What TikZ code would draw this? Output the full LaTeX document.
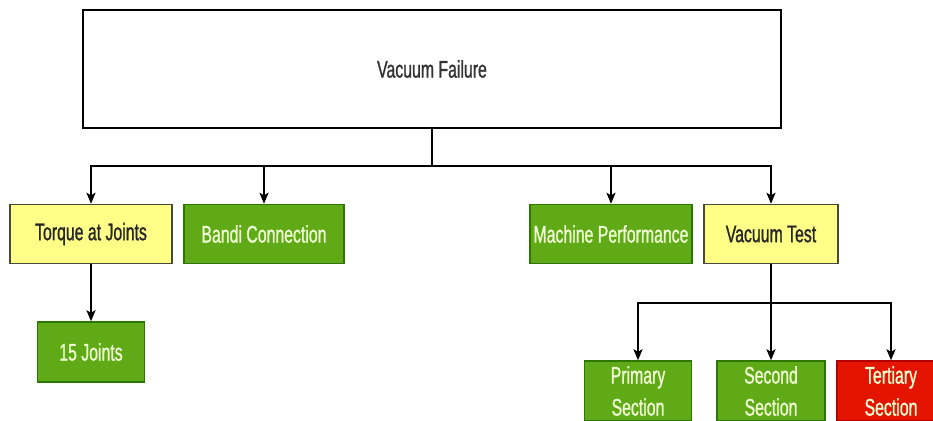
\documentclass[tikz,border=0pt]{standalone}
\usepackage{fontspec}
\setmainfont{Liberation Sans}[FakeStretch=0.66,FakeBold=1]
\usetikzlibrary{arrows.meta}
\definecolor{leafgreen}{HTML}{60A917}
\definecolor{leafgreenline}{HTML}{2D7600}
\definecolor{noteyellow}{HTML}{FFFF88}
\definecolor{noteyellowline}{HTML}{4A4A3A}
\definecolor{alertred}{HTML}{E51400}
\definecolor{alertredline}{HTML}{B20000}
\definecolor{palelabel}{HTML}{EEFFD2}
\begin{document}
\begin{tikzpicture}[x=1pt,y=-1pt,
  box/.style={rectangle, inner sep=0pt, anchor=center, align=center,
    font=\fontsize{24}{32}\selectfont, line width=1.4pt},
  rootbox/.style={box, draw=black, fill=white, line width=2pt, text=black!80},
  yellowbox/.style={box, draw=noteyellowline, fill=noteyellow, text=black!85},
  greenbox/.style={box, draw=leafgreenline, fill=leafgreen, text=palelabel},
  redbox/.style={box, draw=alertredline, fill=alertred, text=palelabel},
  link/.style={draw=black, line width=2pt},
  arrowlink/.style={link, -{Stealth[length=11pt,width=9pt,inset=2.5pt]}}]
\useasboundingbox (0,0) rectangle (933,420);
\clip (0,0) rectangle (933,420);
\fill[white] (0,0) rectangle (933,420);

% root
\node[rootbox, minimum width=698pt, minimum height=118pt] (root) at (432,69) {Vacuum Failure};

% first level
\node[yellowbox, minimum width=162pt, minimum height=59pt] (torque) at (91,234) {Torque at Joints};
\node[greenbox, minimum width=160pt, minimum height=59pt] (bandi) at (264,234) {Bandi Connection};
\node[greenbox, minimum width=162pt, minimum height=59pt] (machine) at (611,234) {Machine Performance};
\node[yellowbox, minimum width=134pt, minimum height=59pt] (vtest) at (771,234) {Vacuum Test};

% second level
\node[greenbox, minimum width=107pt, minimum height=60pt] (joints) at (91,352) {15 Joints};
\node[greenbox, minimum width=107pt, minimum height=60pt] (primary) at (638,391) {Primary\\Section};
\node[greenbox, minimum width=108pt, minimum height=60pt] (second) at (771,391) {Second\\Section};
\node[redbox, minimum width=108pt, minimum height=60pt] (tertiary) at (891,391) {Tertiary\\Section};

% connectors from the root
\coordinate (rootbus) at (432,166);
\draw[link] (root.south) -- (rootbus);
\draw[arrowlink] (rootbus) -| (torque.north);
\draw[arrowlink] (rootbus) -| (bandi.north);
\draw[arrowlink] (rootbus) -| (machine.north);
\draw[arrowlink] (rootbus) -| (vtest.north);

% torque branch
\draw[arrowlink] (torque.south) -- (joints.north);

% vacuum test branch
\coordinate (testbus) at (771,303);
\draw[link] (vtest.south) -- (testbus);
\draw[arrowlink] (testbus) -| (primary.north);
\draw[arrowlink] (testbus) -- (second.north);
\draw[arrowlink] (testbus) -| (tertiary.north);
\end{tikzpicture}
\end{document}
